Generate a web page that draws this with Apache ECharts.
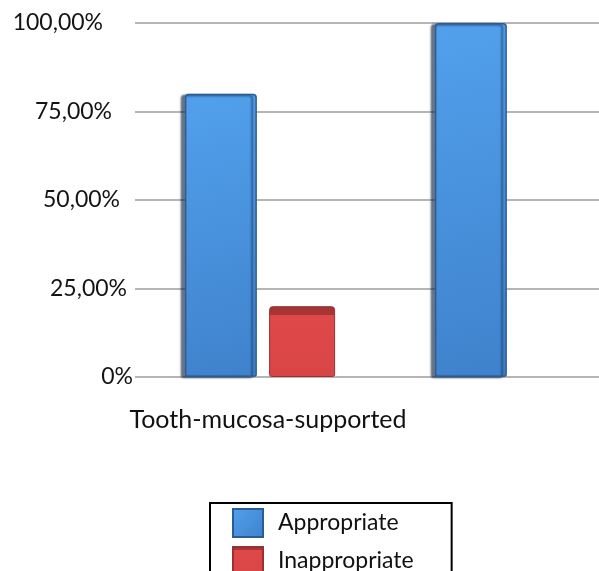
<!DOCTYPE html>
<html>
<head>
<meta charset="utf-8">
<script src="https://cdn.jsdelivr.net/npm/echarts@6/dist/echarts.min.js"></script>
<style>
  html, body { margin: 0; padding: 0; background: #fff; overflow: hidden; }
  #chart { width: 640px; height: 620px; }
</style>
</head>
<body>
<div id="chart"></div>
<script>
// Denture support type vs. share of appropriate / inappropriate cases
const categories = ['Tooth-mucosa-supported', ''];
const appropriate = [80, 100];
const inappropriate = [20, null];
const yTicks = [0, 25, 50, 75, 100];

const FONT = 'Lato, "Open Sans", sans-serif';

// tick labels step slightly left as they go up, like a receding wall
const labelIndent = { 0: 0, 25: 6, 50: 13, 75: 21, 100: 30 };

function pctLabel(v) {
  const txt = v === 0 ? '0%' : v.toFixed(2).replace('.', ',') + '%';
  return '{t' + v + '|' + txt + '}';
}

const rich = {};
yTicks.forEach(function (v) {
  rich['t' + v] = {
    fontFamily: FONT,
    fontSize: 23,
    color: '#141414',
    padding: [0, labelIndent[v], 0, 0]
  };
});

const chart = echarts.init(document.getElementById('chart'), null, { renderer: 'canvas' });

chart.setOption({
  animation: false,
  backgroundColor: '#ffffff',
  grid: { left: 135, right: 5, top: 23, bottom: 243, containLabel: false },
  legend: {
    orient: 'vertical',
    left: 210,
    top: 503,
    padding: [5, 38, 8, 22],
    itemWidth: 30,
    itemHeight: 28,
    itemGap: 8,
    borderColor: '#000',
    borderWidth: 2,
    icon: 'rect',
    textStyle: { fontFamily: FONT, fontSize: 23, color: '#111', padding: [0, 0, 0, 10] },
    data: ['Appropriate', 'Inappropriate']
  },
  xAxis: {
    type: 'category',
    data: categories,
    axisLine: { show: false },
    axisTick: { show: false },
    axisLabel: {
      margin: 30,
      fontFamily: FONT,
      fontSize: 25,
      color: '#111',
      padding: [0, 0, 0, 16]
    }
  },
  yAxis: {
    type: 'value',
    min: yTicks[0],
    max: yTicks[yTicks.length - 1],
    interval: 25,
    axisLine: { show: false },
    axisTick: { show: false },
    axisLabel: {
      margin: 2,
      formatter: pctLabel,
      rich: rich
    },
    splitLine: { lineStyle: { color: '#b5b5b5', width: 2 } }
  },
  series: [
    {
      name: 'Appropriate',
      type: 'bar',
      barWidth: 72,
      barGap: '17%',
      data: appropriate,
      itemStyle: {
        color: new echarts.graphic.LinearGradient(0, 0, 1, 1, [
          { offset: 0, color: '#52a0ec' },
          { offset: 1, color: '#3f82cc' }
        ]),
        borderColor: '#2a5d96',
        borderWidth: 1.5,
        borderRadius: [3, 3, 2, 2],
        shadowColor: 'rgba(10,30,60,0.6)',
        shadowBlur: 2,
        shadowOffsetX: -4,
        shadowOffsetY: 1
      }
    },
    {
      name: 'Inappropriate',
      type: 'bar',
      barWidth: 66,
      data: inappropriate,
      itemStyle: {
        color: new echarts.graphic.LinearGradient(0, 0, 0, 1, [
          { offset: 0, color: '#a33434' },
          { offset: 0.12, color: '#a83636' },
          { offset: 0.13, color: '#e04848' },
          { offset: 1, color: '#d94545' }
        ]),
        borderColor: '#9a3030',
        borderWidth: 1,
        borderRadius: [3, 3, 2, 2]
      }
    }
  ],
  color: ['#4a90d9', '#e05252']
});
</script>
</body>
</html>
